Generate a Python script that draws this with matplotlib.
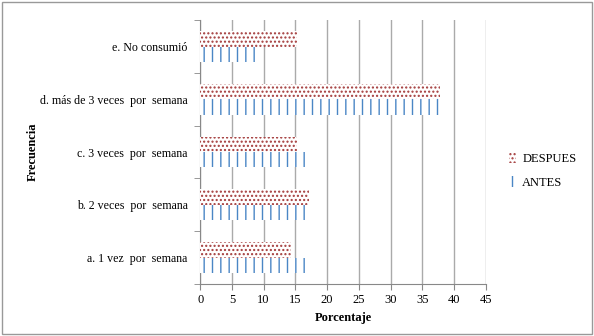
import numpy as np
import matplotlib.pyplot as plt
from matplotlib.patches import Rectangle

categorias = ['a. 1 vez  por  semana', 'b. 2 veces  por  semana', 'c. 3 veces  por  semana',
              'd. más de 3 veces  por  semana', 'e. No consumió']
despues = [14.3, 17.2, 15.2, 37.7, 15.2]
antes = [16.7, 16.7, 16.7, 38.4, 9.1]

plt.rcParams['font.family'] = ['Liberation Serif', 'DejaVu Serif']
plt.rcParams['hatch.linewidth'] = 1.0

fig = plt.figure(figsize=(5.94, 3.36), dpi=100)
ax = fig.add_axes([0.337, 0.155, 0.481, 0.785])
ax.set_axisbelow(True)

y = np.arange(len(categorias))
h = 0.29
ax.barh(y + h / 2, despues, height=h, color='white', edgecolor='#a33a3a',
        hatch='....', linewidth=0, label='DESPUES', zorder=3)
ax.barh(y - h / 2, antes, height=h, color='white', edgecolor='#4a86c5',
        hatch='||', linewidth=0, label='ANTES', zorder=3)

ax.set_xlim(0, 45)
ax.set_ylim(-0.5, len(categorias) - 0.5)
ax.set_xticks(np.arange(0, 46, 5))
ax.set_yticks(y)
ax.set_yticklabels(categorias, fontsize=8.6)
ax.set_yticks(np.arange(-0.5, len(categorias), 1), minor=True)
ax.tick_params(axis='y', which='major', length=0, pad=9)
ax.tick_params(axis='y', which='minor', length=4, color='#888888')
ax.tick_params(axis='x', labelsize=9, length=4, color='#888888')
ax.grid(axis='x', color='#aaaaaa', linewidth=1)
for s in ['top', 'right']:
    ax.spines[s].set_visible(False)
for s in ['left', 'bottom']:
    ax.spines[s].set_color('#888888')

ax.set_xlabel('Porcentaje', fontsize=9, fontweight='bold')
ax.set_ylabel('Frecuencia', fontsize=9, fontweight='bold')
ax.yaxis.set_label_coords(-0.565, 0.5)

ax.legend(loc='center left', bbox_to_anchor=(1.04, 0.43), frameon=False, fontsize=9,
          handlelength=0.6, handleheight=1.0, handletextpad=0.5, labelspacing=0.9)

fig.patches.append(Rectangle((0.004, 0.006), 0.992, 0.988, transform=fig.transFigure,
                             fill=False, edgecolor='#999999', linewidth=1))

plt.savefig('out.png', dpi=100)
